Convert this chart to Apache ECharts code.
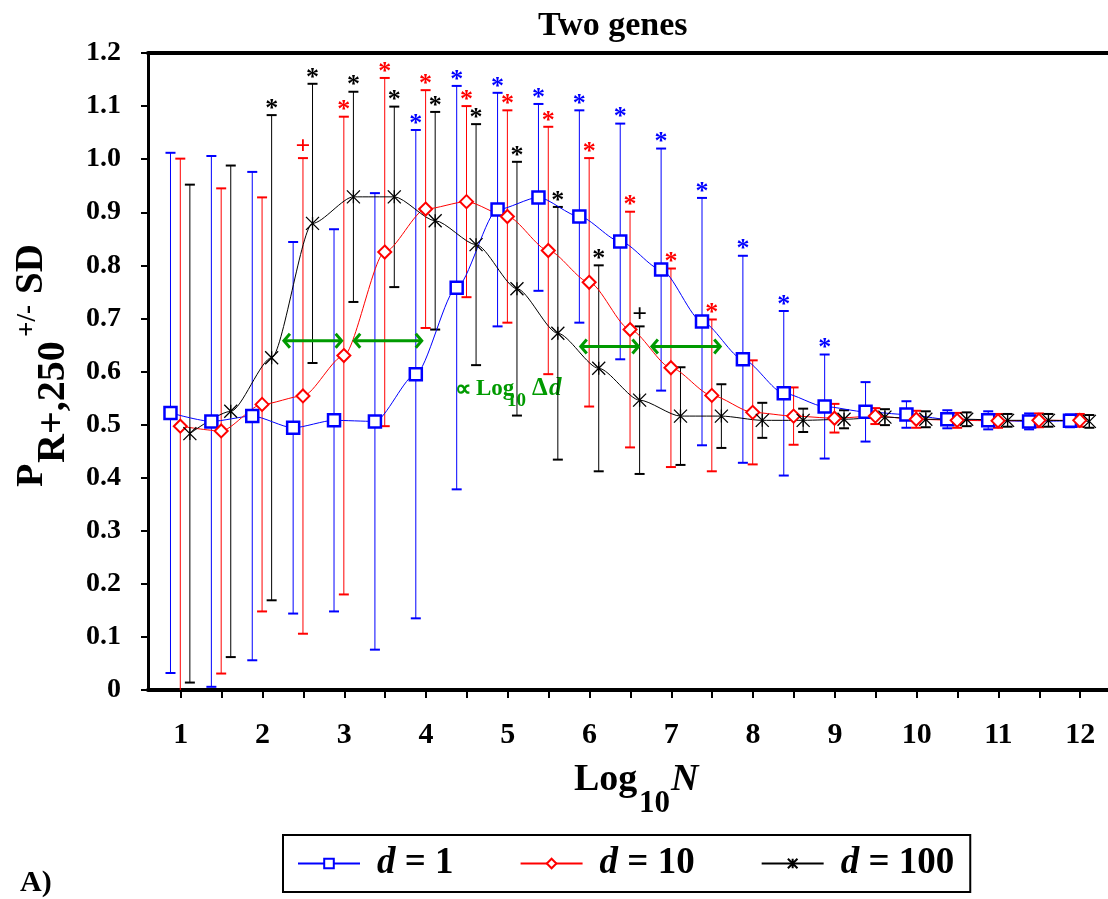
<!DOCTYPE html>
<html lang="en">
    <head>
        <meta charset="UTF-8" />
        <title>Two genes</title>
        <script src="https://cdnjs.cloudflare.com/ajax/libs/echarts/6.0.0/echarts.min.js"></script>
        <style>
            html, body { margin: 0; padding: 0; background: #fff; }
            #chart { width: 1108px; height: 899px; }
        </style>
    </head>

    <body>
        <div id="chart"></div>
        <script>
            //log10 N positions (same for all three series, drawn slightly shifted)
            const logN = [1, 1.5, 2, 2.5, 3, 3.5, 4, 4.5, 5, 5.5, 6, 6.5, 7, 7.5, 8, 8.5, 9, 9.5, 10, 10.5, 11, 11.5, 12];

            //d = 1
            const blueMean = [0.522, 0.506, 0.516, 0.494, 0.508, 0.506, 0.595, 0.758, 0.905, 0.928, 0.892, 0.845, 0.792, 0.694, 0.623, 0.559, 0.534, 0.524, 0.519, 0.51, 0.508, 0.506, 0.507];
            const blueSD = [0.49, 0.5, 0.46, 0.35, 0.36, 0.43, 0.46, 0.38, 0.22, 0.176, 0.2, 0.222, 0.228, 0.233, 0.195, 0.155, 0.098, 0.056, 0.025, 0.017, 0.017, 0.015, 0.012];
            const blueSig = ["", "", "", "", "", "", "*", "*", "*", "*", "*", "*", "*", "*", "*", "*", "*", "", "", "", "", "", ""];

            //d = 10
            const redMean = [0.497, 0.488, 0.538, 0.554, 0.63, 0.825, 0.906, 0.92, 0.892, 0.828, 0.768, 0.679, 0.607, 0.555, 0.523, 0.516, 0.512, 0.516, 0.51, 0.508, 0.507, 0.508, 0.508];
            const redSD = [0.504, 0.457, 0.39, 0.448, 0.45, 0.328, 0.224, 0.18, 0.2, 0.233, 0.234, 0.222, 0.187, 0.143, 0.098, 0.054, 0.027, 0.015, 0.016, 0.014, 0.013, 0.013, 0.012];
            const redSig = ["", "", "", "+", "*", "*", "*", "*", "*", "*", "*", "*", "*", "*", "", "", "", "", "", "", "", "", ""];

            //d = 100
            const blackMean = [0.483, 0.525, 0.626, 0.879, 0.929, 0.929, 0.884, 0.839, 0.756, 0.672, 0.606, 0.546, 0.516, 0.516, 0.508, 0.508, 0.51, 0.514, 0.51, 0.51, 0.508, 0.508, 0.506];
            const blackSD = [0.469, 0.463, 0.457, 0.263, 0.198, 0.17, 0.205, 0.227, 0.239, 0.238, 0.194, 0.139, 0.092, 0.06, 0.033, 0.022, 0.017, 0.015, 0.015, 0.013, 0.012, 0.012, 0.012];
            const blackSig = ["", "", "*", "*", "*", "*", "*", "*", "*", "*", "*", "+", "", "", "", "", "", "", "", "", "", "", ""];

            //green double arrows: [from, to, level]
            const arrows = [[2.25, 2.98, 0.658], [3.11, 3.96, 0.658], [5.88, 6.61, 0.647], [6.75, 7.61, 0.647]];

            const xTicks = [1, 2, 3, 4, 5, 6, 7, 8, 9, 10, 11, 12];
            const xMinorTicks = [1, 1.5, 2, 2.5, 3, 3.5, 4, 4.5, 5, 5.5, 6, 6.5, 7, 7.5, 8, 8.5, 9, 9.5, 10, 10.5, 11, 11.5, 12];

            const FONT = '"Liberation Serif", "Times New Roman", serif';
            const GREEN = "#009a00";

            function lineSeries(name, color, offset, means, symbol, symbolSize, itemStyle) {
                return {
                    type: "line",
                    name: name,
                    z: 4,
                    smooth: 0.25,
                    smoothMonotone: "x",
                    data: logN.map((x, i) => [x + offset, means[i]]),
                    symbol: symbol,
                    symbolSize: symbolSize,
                    itemStyle: itemStyle,
                    lineStyle: { color: color, width: 1 },
                };
            }

            //error bars with caps and significance marks above the top cap
            function errorSeries(color, offset, means, sds, sig) {
                return {
                    type: "custom",
                    z: 2,
                    clip: true,
                    data: logN.map((x, i) => [x + offset, means[i], sds[i]]),
                    encode: { x: 0, y: 1 },
                    renderItem: function(params, api) {
                        const x = api.value(0);
                        const m = api.value(1);
                        const s = api.value(2);
                        const t = api.coord([x, m + s]);
                        const b = api.coord([x, m - s]);
                        const w = 5;
                        const children = [
                            { type: "line", shape: { x1: t[0], y1: t[1], x2: b[0], y2: b[1] }, style: { stroke: color, lineWidth: 1 } },
                            { type: "line", shape: { x1: t[0] - w, y1: t[1], x2: t[0] + w, y2: t[1] }, style: { stroke: color, lineWidth: 2 } },
                            { type: "line", shape: { x1: b[0] - w, y1: b[1], x2: b[0] + w, y2: b[1] }, style: { stroke: color, lineWidth: 2 } },
                        ];
                        const mark = sig[params.dataIndex];
                        if (mark) {
                            children.push({
                                type: "text",
                                style: {
                                    text: mark,
                                    x: t[0],
                                    y: t[1] - (mark === "*" ? 6 : 11),
                                    align: "center",
                                    verticalAlign: "middle",
                                    font: "bold 26px " + FONT,
                                    fill: color,
                                },
                            });
                        }
                        return { type: "group", children: children };
                    },
                };
            }

            //green double headed arrows
            const arrowSeries = {
                type: "custom",
                z: 5,
                data: arrows,
                renderItem: function(params, api) {
                    const y = api.value(2);
                    const a = api.coord([api.value(0), y]);
                    const b = api.coord([api.value(1), y]);
                    const h = 7;
                    const st = { stroke: GREEN, lineWidth: 3, fill: null };
                    return {
                        type: "group",
                        children: [
                            { type: "line", shape: { x1: a[0] + 1, y1: a[1], x2: b[0] - 1, y2: b[1] }, style: st },
                            { type: "polyline", shape: { points: [[a[0] + h, a[1] - h], [a[0] + 1, a[1]], [a[0] + h, a[1] + h]] }, style: st },
                            { type: "polyline", shape: { points: [[b[0] - h, b[1] - h], [b[0] - 1, b[1]], [b[0] - h, b[1] + h]] }, style: st },
                        ],
                    };
                },
            };

            //text pieces placed by baseline (middle of the em box sits ~0.34em above the baseline)
            function piece(text, x, baseline, size, opts) {
                opts = opts || {};
                return {
                    type: "text",
                    x: x,
                    y: baseline - 0.34 * size,
                    style: {
                        text: text,
                        font: (opts.italic ? "italic " : "") + "bold " + size + "px " + FONT,
                        fill: opts.color || "#000",
                        verticalAlign: "middle",
                        align: "left",
                    },
                };
            }

            const chart = echarts.init(document.getElementById("chart"), null, { renderer: "canvas" });

            chart.setOption({
                animation: false,
                backgroundColor: "#fff",
                title: {
                    text: "Two genes",
                    left: 533,
                    top: 4,
                    textStyle: { fontFamily: FONT, fontWeight: "bold", fontSize: 34, color: "#000" },
                },
                grid: { left: 148, right: 0, top: 53, bottom: 209 },
                legend: {
                    data: ["d = 1", "d = 10", "d = 100"],
                    left: 283,
                    top: 835,
                    padding: [10, 16, 10, 14],
                    itemGap: 66,
                    itemWidth: 62,
                    itemHeight: 12,
                    borderColor: "#000",
                    borderWidth: 2,
                    formatter: function(name) {
                        return "{i|d}{t|" + name.slice(1) + "}";
                    },
                    textStyle: {
                        rich: {
                            i: { fontFamily: FONT, fontStyle: "italic", fontWeight: "bold", fontSize: 37, color: "#000", padding: [0, 0, 0, 12] },
                            t: { fontFamily: FONT, fontWeight: "bold", fontSize: 37, color: "#000" },
                        },
                    },
                },
                xAxis: [
                    {
                        type: "value",
                        min: 0.6,
                        max: 12.34,
                        axisLine: { lineStyle: { color: "#000", width: 4 } },
                        axisTick: { customValues: xMinorTicks, length: 8, lineStyle: { color: "#000", width: 2 } },
                        axisLabel: { customValues: xTicks, margin: 30, fontFamily: FONT, fontWeight: "bold", fontSize: 30, color: "#000" },
                        splitLine: { show: false },
                    },
                    {
                        type: "value",
                        position: "top",
                        min: 0.6,
                        max: 12.34,
                        axisLine: { show: true, lineStyle: { color: "#000", width: 4 } },
                        axisTick: { show: false },
                        axisLabel: { show: false },
                        splitLine: { show: false },
                    },
                ],
                yAxis: {
                    type: "value",
                    min: 0,
                    max: 1.2,
                    interval: 0.1,
                    axisLine: { show: true, lineStyle: { color: "#000", width: 3 } },
                    axisTick: { show: true, length: 7, lineStyle: { color: "#000", width: 2 } },
                    axisLabel: {
                        margin: 27,
                        fontFamily: FONT,
                        fontWeight: "bold",
                        fontSize: 28,
                        color: "#000",
                        formatter: v => (v === 0 ? "0" : v.toFixed(1)),
                    },
                    splitLine: { show: false },
                },
                graphic: [
                    //y axis name, rotated to read upwards
                    {
                        type: "group",
                        x: 45,
                        y: 487,
                        rotation: Math.PI / 2,
                        children: [
                            piece("P", 0, 0, 38),
                            piece("R+,250", 24, 22, 40),
                            piece("+/-", 150, -8, 27),
                            piece("SD", 193, 0, 39),
                        ],
                    },
                    //x axis name
                    piece("Log", 574, 793, 38),
                    piece("10", 639, 815, 31),
                    piece("N", 671, 793, 38, { italic: true }),
                    //annotation
                    piece("\u221d", 455, 398, 23, { color: GREEN }),
                    piece("Log", 476, 397, 23, { color: GREEN }),
                    piece("10", 507, 408, 19, { color: GREEN }),
                    piece("\u0394", 532, 397, 25, { color: GREEN }),
                    piece("d", 549, 397, 25, { color: GREEN, italic: true }),
                    //panel label
                    piece("A)", 20, 893, 30),
                ],
                series: [
                    errorSeries("#0000ff", -0.125, blueMean, blueSD, blueSig),
                    errorSeries("#ff0000", -0.005, redMean, redSD, redSig),
                    errorSeries("#000000", 0.112, blackMean, blackSD, blackSig),
                    lineSeries("d = 1", "#0000ff", -0.125, blueMean, "rect", 12, { color: "#fff", borderColor: "#0000ff", borderWidth: 2.5 }),
                    lineSeries("d = 10", "#ff0000", -0.005, redMean, "diamond", 13, { color: "#fff", borderColor: "#ff0000", borderWidth: 2 }),
                    lineSeries("d = 100", "#000000", 0.112, blackMean, "path://M0,0L10,10M10,0L0,10M5,0L5,10", 13, { color: "#000", borderColor: "#000", borderWidth: 1.3 }),
                    arrowSeries,
                ],
            });
        </script>
    </body>
</html>
